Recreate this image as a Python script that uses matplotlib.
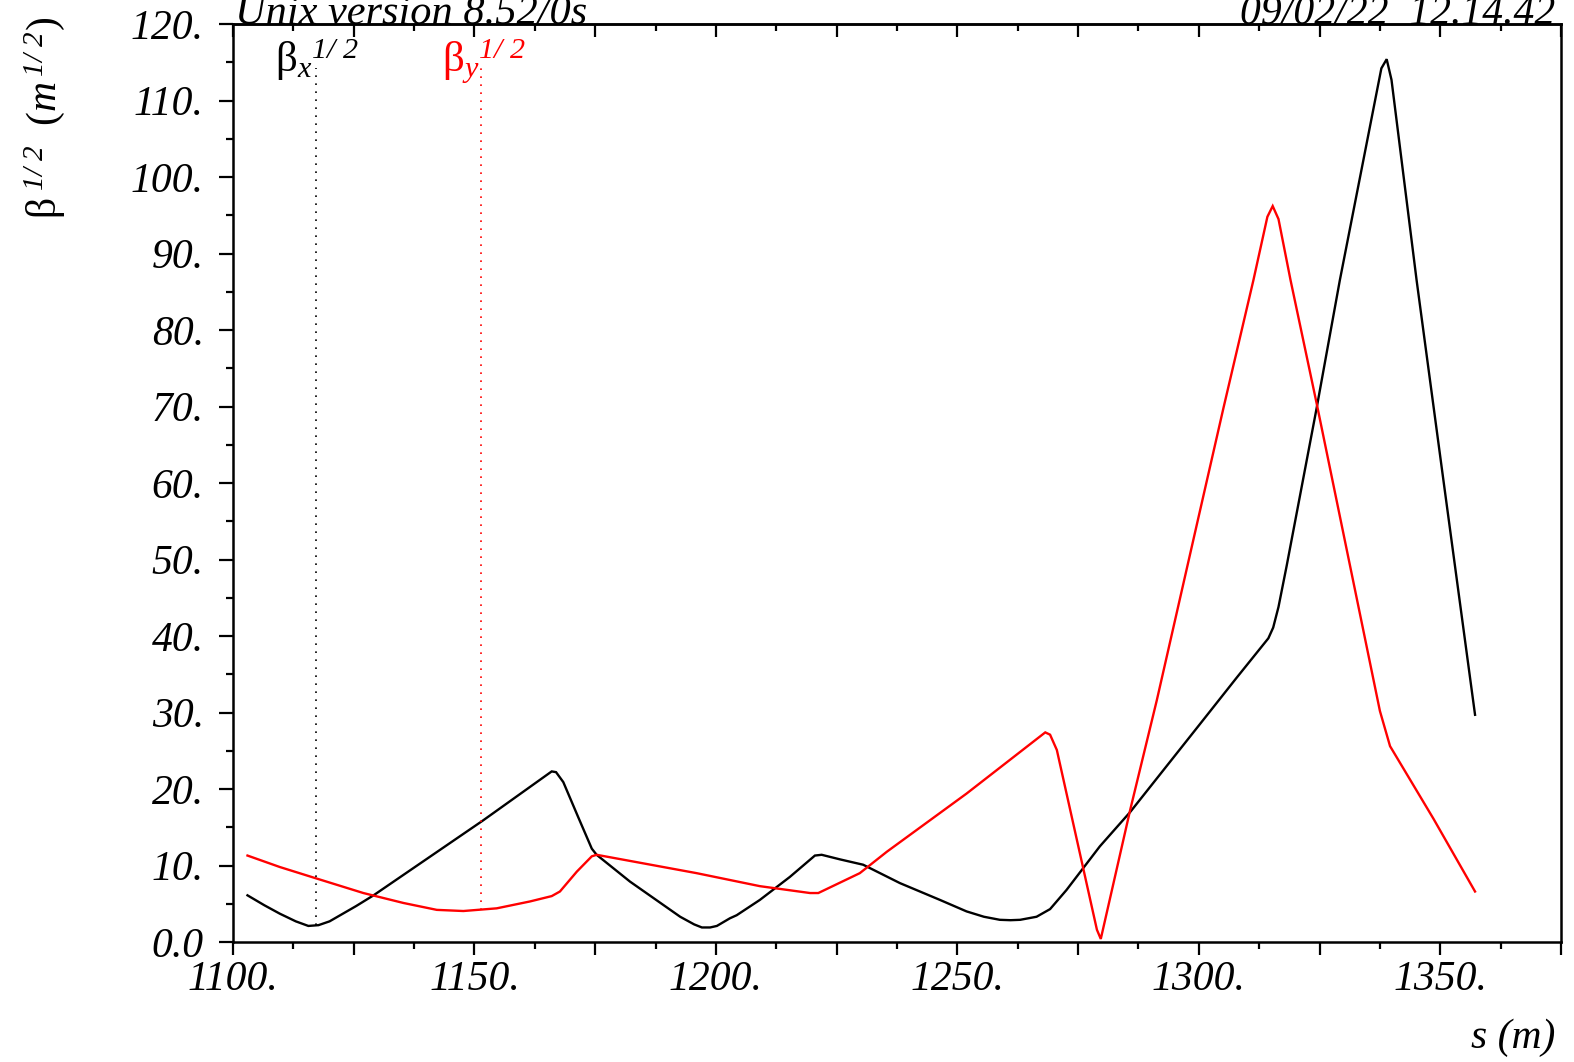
import numpy as np
import matplotlib
matplotlib.use("Agg")
import matplotlib.pyplot as plt
from matplotlib.ticker import MultipleLocator, FixedLocator, FixedFormatter, FuncFormatter

plt.rcParams['font.family'] = ['Liberation Serif', 'DejaVu Serif']
plt.rcParams['mathtext.fontset'] = 'custom'
plt.rcParams['mathtext.rm'] = 'Liberation Serif'
plt.rcParams['mathtext.it'] = 'Liberation Serif:italic'
plt.rcParams['mathtext.sf'] = 'Liberation Serif:italic'
plt.rcParams['mathtext.bf'] = 'Liberation Serif:bold'

# ---- data (s in m, sqrt(beta) in m^1/2) ----
s_x = [1103.0, 1106.5, 1109.7, 1113.0, 1115.6, 1117.7, 1120.0, 1122.2, 1125.5, 1129.1,
       1151.8, 1166.0, 1166.9, 1168.4, 1171.5, 1174.3, 1175.3, 1182.2, 1192.6, 1195.5,
       1197.1, 1198.8, 1200.2, 1202.9, 1204.3, 1209.1, 1215.3, 1220.5, 1221.9, 1225.7,
       1230.5, 1238.1, 1246.4, 1251.9, 1255.5, 1258.8, 1261.0, 1263.0, 1266.4, 1269.2,
       1272.6, 1279.5, 1285.8, 1300.0, 1307.9, 1314.4, 1315.4, 1316.5, 1318.2, 1324.4,
       1329.2, 1337.8, 1338.9, 1339.9, 1345.1, 1350.6, 1357.2]
beta_x = [6.1, 4.8, 3.7, 2.7, 2.1, 2.2, 2.7, 3.5, 4.7, 6.1,
          15.9, 22.3, 22.2, 20.9, 16.3, 12.2, 11.4, 7.9, 3.3, 2.3,
          1.9, 1.9, 2.1, 3.1, 3.5, 5.5, 8.5, 11.3, 11.4, 10.8,
          10.1, 7.7, 5.5, 4.0, 3.3, 2.9, 2.85, 2.9, 3.3, 4.3,
          6.8, 12.5, 17.0, 28.3, 34.6, 39.7, 41.1, 43.8, 49.2, 69.8,
          86.5, 114.2, 115.4, 112.7, 86.5, 60.6, 29.7]

s_y = [1103.0, 1109.7, 1117.3, 1127.0, 1135.3, 1142.2, 1147.7, 1154.6, 1161.5, 1166.0,
       1167.7, 1171.2, 1174.3, 1175.3, 1182.2, 1196.0, 1209.1, 1219.5, 1221.2, 1225.5,
       1229.8, 1235.4, 1251.9, 1268.2, 1269.2, 1270.6, 1278.9, 1279.7, 1285.8, 1291.3,
       1299.6, 1305.1, 1311.3, 1314.2, 1315.3, 1316.5, 1319.0, 1324.4, 1337.5, 1339.6,
       1348.6, 1357.2]
beta_y = [11.3, 9.8, 8.3, 6.4, 5.1, 4.2, 4.05, 4.4, 5.3, 6.0,
          6.6, 9.2, 11.2, 11.4, 10.6, 9.0, 7.3, 6.4, 6.4, 7.7,
          9.0, 11.8, 19.4, 27.4, 27.1, 25.1, 1.6, 0.4, 17.3, 31.6,
          54.6, 69.8, 86.5, 94.8, 96.2, 94.5, 86.5, 70.4, 30.2, 25.6,
          16.1, 6.6]

x_ticks = [1100, 1150, 1200, 1250, 1300, 1350]
x_ticklabels = ['1100.', '1150.', '1200.', '1250.', '1300.', '1350.']
y_ticks = [0, 10, 20, 30, 40, 50, 60, 70, 80, 90, 100, 110, 120]
y_ticklabels = ['0.0', '10.', '20.', '30.', '40.', '50.', '60.', '70.', '80.',
                '90.', '100.', '110.', '120.']

marker_x_s = 1117.2
marker_y_s = 1151.4
marker_top = 114.3
label_x_s = 1108.8
label_y_s = 1143.2

W, H = 1574, 1062
fig = plt.figure(figsize=(W / 100, H / 100), dpi=100)
ax = fig.add_axes([233 / W, 1 - 942 / H, (1561 - 233) / W, (942 - 24) / H])

ax.plot(s_x, beta_x, color='black', lw=1.7, solid_joinstyle='miter')
ax.plot(s_y, beta_y, color='red', lw=1.7, solid_joinstyle='miter')

# marker dotted lines
bx0 = np.interp(marker_x_s, s_x, beta_x)
by0 = np.interp(marker_y_s, s_y, beta_y)
ax.plot([marker_x_s, marker_x_s], [bx0, marker_top], color='black', lw=1.2,
        linestyle=(0, (1, 3.8)))
ax.plot([marker_y_s, marker_y_s], [by0, marker_top], color='red', lw=1.2,
        linestyle=(0, (1, 3.8)))

ax.text(label_x_s, 113.7, r'$\mathrm{\beta}_{\mathit{x}}{}^{\mathsf{1/\ 2}}$',
        ha='left', va='baseline', fontsize=31, color='black')
ax.text(label_y_s, 113.7, r'$\mathrm{\beta}_{\mathit{y}}{}^{\mathsf{1/\ 2}}$',
        ha='left', va='baseline', fontsize=31, color='red')

ax.set_xlim(1100, 1375)
ax.set_ylim(0, 120)

ax.xaxis.set_major_locator(MultipleLocator(25))
ax.xaxis.set_minor_locator(MultipleLocator(12.5))
ax.yaxis.set_major_locator(FixedLocator(y_ticks))
ax.yaxis.set_major_formatter(FixedFormatter(y_ticklabels))
ax.yaxis.set_minor_locator(MultipleLocator(5))

lab = dict(zip(x_ticks, x_ticklabels))
ax.xaxis.set_major_formatter(FuncFormatter(
    lambda v, p: lab.get(int(round(v)), '') if abs(v - round(v)) < 1e-6 else ''))

ax.tick_params(axis='x', which='major', direction='out', length=9.5, width=1.6,
               bottom=True, top=False, labelsize=30, pad=4)
ax.tick_params(axis='x', which='minor', direction='out', length=5, width=1.6,
               bottom=True, top=False)
ax.tick_params(axis='y', which='major', direction='out', length=10, width=1.6,
               left=True, right=False, labelsize=30, pad=11)
ax.tick_params(axis='y', which='minor', direction='out', length=5, width=1.6,
               left=True, right=False)
for lbl in ax.get_xticklabels() + ax.get_yticklabels():
    lbl.set_fontstyle('italic')

# inward ticks on top spine
secx = ax.secondary_xaxis('top')
secx.xaxis.set_major_locator(MultipleLocator(25))
secx.xaxis.set_minor_locator(MultipleLocator(12.5))
secx.tick_params(which='major', direction='in', length=9.5, width=1.6, labeltop=False)
secx.tick_params(which='minor', direction='in', length=5, width=1.6)
secx.spines['top'].set_linewidth(1.8)

for sp in ax.spines.values():
    sp.set_linewidth(1.8)

fig.text(235 / W, 1 - 24 / H, 'Unix version 8.52/0s', ha='left', va='baseline',
         fontsize=30.5, fontstyle='italic')
fig.text(1555 / W, 1 - 24 / H, '09/02/22  12.14.42', ha='right', va='baseline',
         fontsize=30, fontstyle='italic')
fig.text(1555 / W, 1 - 1048 / H, 's (m)', ha='right', va='baseline',
         fontsize=30, fontstyle='italic')
fig.text(45 / W, 1 - 118 / H,
         r'$\mathrm{\beta}^{\ \mathsf{1/\ 2}}\ \ (m^{\,\mathsf{1/\ 2}})$', rotation=90,
         ha='center', va='center', fontsize=30)

fig.savefig('out.png', dpi=100)
